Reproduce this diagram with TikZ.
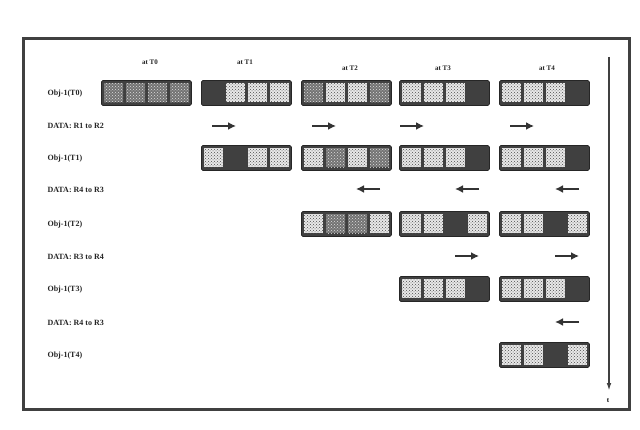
\documentclass[tikz,border=0pt]{standalone}
\usepackage{fontspec}
\setmainfont{Liberation Serif}
\usetikzlibrary{patterns,arrows.meta}
\tikzset{
  frame/.style={draw=black!75, line width=3pt},
  boxfill/.style={fill=black!75, draw=black!85, line width=0.8pt, rounded corners=1.5pt, minimum width=90, minimum height=25, inner sep=0pt, anchor=west},
  L/.style={fill=gray!18, postaction={pattern=crosshatch dots, pattern color=black!70}},
  M/.style={fill=black!55, postaction={pattern=crosshatch dots, pattern color=gray!25}},
  D/.style={fill=none, draw=none},
  lbl/.style={font=\bfseries\fontsize{8}{8}\selectfont, anchor=west, text=black!85},
  hdr/.style={font=\bfseries\fontsize{7}{7}\selectfont, text=black!85},
  darr/.style={-{Latex[length=8pt,width=8pt]}, line width=2.8pt, draw=black!80},
  tarr/.style={-{Latex[length=9pt,width=4.5pt]}, line width=2.2pt, draw=black!75},
}
\newcommand\objbox[4]{%
  \node[boxfill] (#1) at (#2,#3) {};
  \foreach \c [count=\i from 0] in {#4} {
    \path[\c] ({#2+3+\i*22},{#3-9.5}) rectangle ({#2+22+\i*22},{#3+9.5});
  }
}
\newcommand\rarrow[3]{%
  \coordinate (#1a) at (#2,#3); \coordinate (#1b) at ({#2+24},#3);
  \draw[darr] (#1a) -- (#1b);
}
\newcommand\larrow[3]{%
  \coordinate (#1a) at ({#2+24},#3); \coordinate (#1b) at (#2,#3);
  \draw[darr] (#1a) -- (#1b);
}
\begin{document}
\begin{tikzpicture}[x=1pt,y=-1pt]
\useasboundingbox (0,0) rectangle (640,430);
\fill[white] (0,0) rectangle (640,430);
\draw[frame] (23,39) rectangle (629,409);

% headers
\node[hdr] (h0) at (150,62) {at T0};
\node[hdr] (h1) at (245,62) {at T1};
\node[hdr] (h2) at (350,68) {at T2};
\node[hdr] (h3) at (443,68) {at T3};
\node[hdr] (h4) at (547,68) {at T4};

% row labels
\node[lbl] (r0) at (44,94)  {Obj-1(T0)};
\node[lbl] (d1) at (44,126) {DATA: R1 to R2};
\node[lbl] (r1) at (44,159) {Obj-1(T1)};
\node[lbl] (d2) at (44,190) {DATA: R4 to R3};
\node[lbl] (r2) at (44,225) {Obj-1(T2)};
\node[lbl] (d3) at (44,257) {DATA: R3 to R4};
\node[lbl] (r3) at (44,290) {Obj-1(T3)};
\node[lbl] (d4) at (44,323) {DATA: R4 to R3};
\node[lbl] (r4) at (44,356) {Obj-1(T4)};

% row T0
\objbox{b00}{101}{93}{M,M,M,M}
\objbox{b01}{201}{93}{D,L,L,L}
\objbox{b02}{301}{93}{M,L,L,M}
\objbox{b03}{399}{93}{L,L,L,D}
\objbox{b04}{499}{93}{L,L,L,D}
% arrows row 1
\rarrow{a11}{212}{126}
\rarrow{a12}{312}{126}
\rarrow{a13}{400}{126}
\rarrow{a14}{510}{126}
% row T1
\objbox{b11}{201}{158}{L,D,L,L}
\objbox{b12}{301}{158}{L,M,L,M}
\objbox{b13}{399}{158}{L,L,L,D}
\objbox{b14}{499}{158}{L,L,L,D}
% arrows row 2
\larrow{a22}{356}{189}
\larrow{a23}{455}{189}
\larrow{a24}{555}{189}
% row T2
\objbox{b22}{301}{224}{L,M,M,L}
\objbox{b23}{399}{224}{L,L,D,L}
\objbox{b24}{499}{224}{L,L,D,L}
% arrows row 3
\rarrow{a33}{455}{256}
\rarrow{a34}{555}{256}
% row T3
\objbox{b33}{399}{289}{L,L,L,D}
\objbox{b34}{499}{289}{L,L,L,D}
% arrow row 4
\larrow{a44}{555}{322}
% row T4
\objbox{b44}{499}{355}{L,L,D,L}

% time axis
\coordinate (t0) at (609,57);
\coordinate (t1) at (609,392);
\draw[tarr] (t0) -- (t1);
\node[font=\bfseries\fontsize{7}{7}\selectfont] (tl) at (608,401) {t};
\end{tikzpicture}
\end{document}
